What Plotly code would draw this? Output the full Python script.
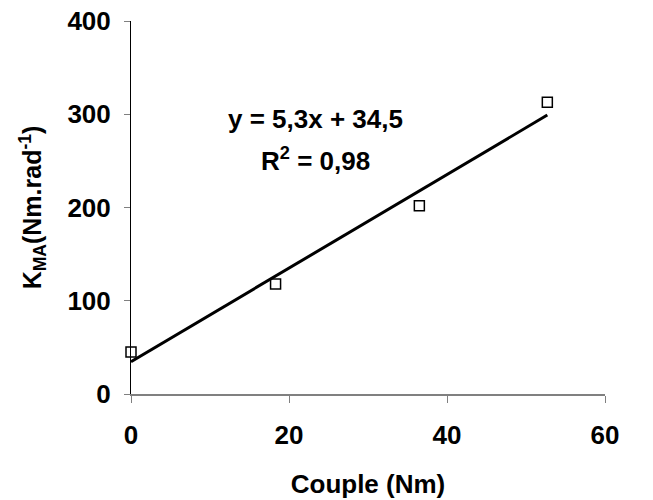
import numpy as np
import plotly.graph_objects as go

# Data
couple = [0, 18.3, 36.5, 52.7]          # Couple (Nm)
kma = [45, 118, 202, 313]               # K_MA (Nm.rad-1)
x_ticks = [0, 20, 40, 60]
y_ticks = [0, 100, 200, 300, 400]
eq_text = "y = 5,3x + 34,5"
r2_text = "R<sup>2</sup> = 0,98"

# Linear trendline from the points
slope, intercept = np.polyfit(couple, kma, 1)
trend_x = [min(couple), max(couple)]
trend_y = [slope * v + intercept for v in trend_x]

FONT = "Liberation Sans, Arial, sans-serif"

fig = go.Figure()
fig.add_trace(go.Scatter(
    x=trend_x, y=trend_y, mode="lines",
    line=dict(color="black", width=3),
    showlegend=False, hoverinfo="skip", cliponaxis=False,
))
fig.add_trace(go.Scatter(
    x=couple, y=kma, mode="markers",
    marker=dict(symbol="square-open", size=10, color="black",
                line=dict(width=1.5, color="black")),
    showlegend=False, cliponaxis=False,
))

fig.add_annotation(x=23.3, y=295, xref="x", yref="y", text=eq_text,
                   showarrow=False, font=dict(family=FONT, size=26, color="black", weight="bold"))
fig.add_annotation(x=23.4, y=252, xref="x", yref="y", text=r2_text,
                   showarrow=False, font=dict(family=FONT, size=26, color="black", weight="bold"))

fig.update_layout(
    width=653, height=500,
    margin=dict(l=131, r=48, t=21, b=106),
    paper_bgcolor="white", plot_bgcolor="white",
    font=dict(family=FONT, color="black"),
)
fig.update_xaxes(
    range=[0, 60], tickvals=x_ticks, ticktext=[str(v) for v in x_ticks],
    showgrid=False, zeroline=False, automargin=False,
    showline=True, linecolor="#808080", linewidth=1.5,
    ticks="outside", ticklen=7, tickcolor="#808080", tickwidth=1,
    tickfont=dict(family=FONT, size=26, color="black", weight="bold"),
    ticklabelstandoff=10,
    title=dict(text="Couple (Nm)", standoff=26,
               font=dict(family=FONT, size=26, color="black", weight="bold")),
)
fig.update_yaxes(
    range=[0, 400], tickvals=y_ticks, ticktext=[str(v) for v in y_ticks],
    showgrid=False, zeroline=False, automargin=False,
    showline=True, linecolor="black", linewidth=1,
    ticks="outside", ticklen=6, tickcolor="#808080", tickwidth=1,
    tickfont=dict(family=FONT, size=26, color="black", weight="bold"),
    ticklabelstandoff=8,
    title=dict(text="K<sub>MA</sub>(Nm.rad<sup>-1</sup>)", standoff=18,
               font=dict(family=FONT, size=25, color="black", weight="bold")),
)

# remove the default page margin so the figure sits at the window's top-left
fig.write_html("out.html", config={"displayModeBar": False},
               post_script="document.body.style.margin='0';")
